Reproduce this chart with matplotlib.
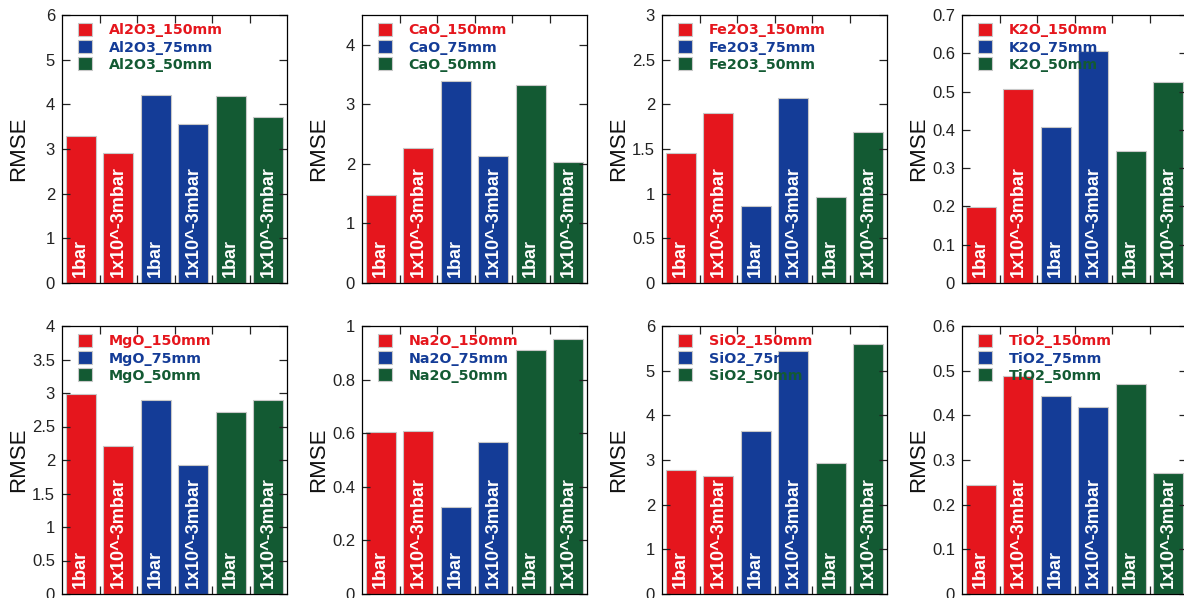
import matplotlib
matplotlib.use('Agg')
import matplotlib.pyplot as plt
from matplotlib.ticker import FuncFormatter, MultipleLocator

narrow = ['Liberation Sans', 'DejaVu Sans']

oxides = ['Al2O3', 'CaO', 'Fe2O3', 'K2O', 'MgO', 'Na2O', 'SiO2', 'TiO2']
sizes = ['150mm', '75mm', '50mm']
pressures = ['1bar', '1x10^-3mbar']
colors = ['#e5161d', '#143c97', '#135a33']

# RMSE, order: 150mm 1bar, 150mm 1e-3, 75mm 1bar, 75mm 1e-3, 50mm 1bar, 50mm 1e-3
al2o3 = [3.30, 2.91, 4.21, 3.56, 4.18, 3.71]
cao = [1.47, 2.27, 3.39, 2.13, 3.32, 2.04]
fe2o3 = [1.46, 1.90, 0.86, 2.07, 0.96, 1.69]
k2o = [0.199, 0.508, 0.407, 0.607, 0.344, 0.526]
mgo = [2.99, 2.21, 2.89, 1.93, 2.71, 2.89]
na2o = [0.604, 0.607, 0.323, 0.569, 0.91, 0.952]
sio2 = [2.78, 2.64, 3.64, 5.44, 2.94, 5.60]
tio2 = [0.244, 0.487, 0.444, 0.419, 0.470, 0.270]
values = [al2o3, cao, fe2o3, k2o, mgo, na2o, sio2, tio2]

ymax = [6, 4.5, 3, 0.7, 4, 1, 6, 0.6]
ystep = [1, 1, 0.5, 0.1, 0.5, 0.2, 1, 0.1]

W, H = 1184, 598
fig = plt.figure(figsize=(W / 100, H / 100), dpi=100)

lefts = [62, 362, 662, 962]
tops = [15, 326]
aw, ah = 225, 268

for k, ox in enumerate(oxides):
    r, c = divmod(k, 4)
    l, t = lefts[c], tops[r]
    ax = fig.add_axes([l / W, 1 - (t + ah) / H, aw / W, ah / H])
    vals = values[k]
    for s in range(3):
        xs = [2 * s, 2 * s + 1]
        ax.bar(xs, vals[2 * s:2 * s + 2], width=0.8, color=colors[s],
               edgecolor='#c8c8c8', linewidth=0.8, label=ox + '_' + sizes[s])
        for j, x in enumerate(xs):
            ax.annotate(pressures[j], xy=(x, 0), xytext=(0, 4), textcoords='offset points',
                        rotation=90, ha='center', va='bottom', color='white',
                        fontsize=13, fontweight='bold', family=narrow)
    ax.set_xlim(-0.5, 5.5)
    ax.set_ylim(0, ymax[k])
    ax.set_xticks([0.5, 1.5, 2.5, 3.5, 4.5])
    ax.set_xticklabels([])
    ax.yaxis.set_major_locator(MultipleLocator(ystep[k]))
    ax.yaxis.set_major_formatter(FuncFormatter(lambda v, p: '{:g}'.format(round(v, 6))))
    ax.tick_params(direction='in', top=True, right=True, length=5.5, width=0.9,
                   labelsize=12, pad=5, colors='#222222')
    for lab in ax.get_yticklabels():
        lab.set_family(narrow)
    for sp in ax.spines.values():
        sp.set_linewidth(0.9)
        sp.set_zorder(5)
    ax.set_ylabel('RMSE', fontsize=16, family=narrow, color='#111111')
    ax.yaxis.set_label_coords(-0.145, 0.5)
    leg = ax.legend(loc='upper left', bbox_to_anchor=(0.07, 0.97), frameon=False,
                    borderpad=0, borderaxespad=0, handlelength=1.0, handleheight=1.0,
                    handletextpad=1.15, labelspacing=0.2,
                    prop={'family': 'DejaVu Sans', 'weight': 'bold', 'size': 10.3})
    for txt, col in zip(leg.get_texts(), colors):
        txt.set_color(col)
    leg.set_zorder(6)

fig.savefig('out.png', dpi=100)
